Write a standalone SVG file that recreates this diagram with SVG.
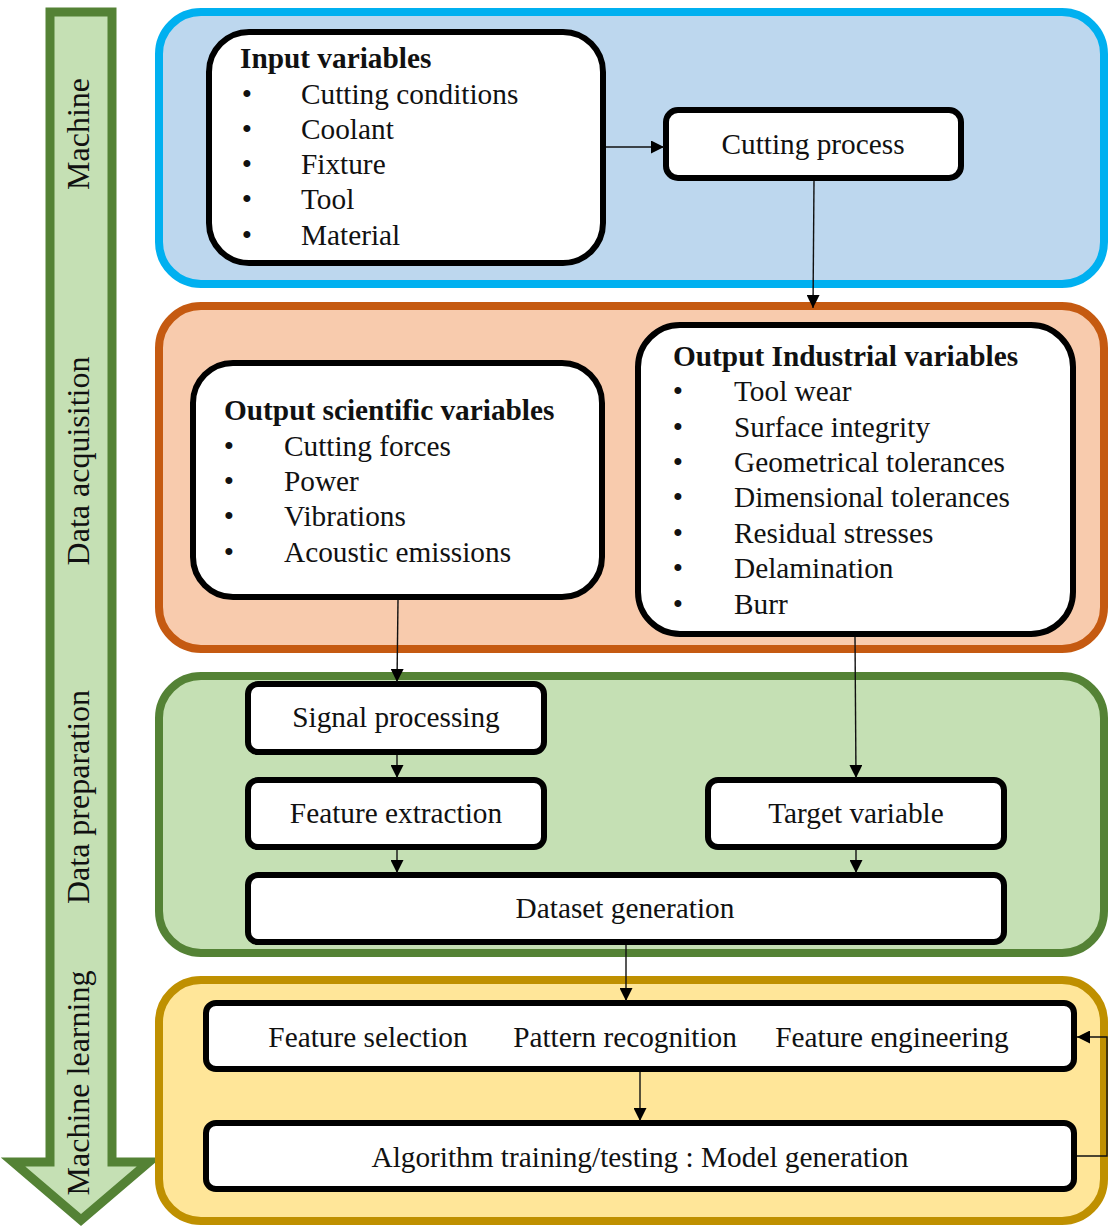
<svg xmlns="http://www.w3.org/2000/svg" width="1109" height="1227" viewBox="0 0 1109 1227">
<defs>
<style>
.t{font-family:"Liberation Serif","Times New Roman",serif;font-size:29.3px;fill:#111}
.b{font-weight:bold}
.m{text-anchor:middle}
.side{font-family:"Liberation Serif","Times New Roman",serif;font-size:32px;fill:#111;text-anchor:middle}
.box{fill:#fff;stroke:#000;stroke-width:6}
.con{fill:none;stroke:#111;stroke-width:1.4}
</style>
<marker id="ah" viewBox="0 0 10 10" refX="10" refY="5" markerWidth="13" markerHeight="13" markerUnits="userSpaceOnUse" orient="auto">
<path d="M0,0 L10,5 L0,10 z" fill="#000"/>
</marker>
</defs>
<rect width="1109" height="1227" fill="#fff"/>

<g id="stage-arrow">
<polygon points="50,12 112,12 112,1162 149,1162 81,1220 13,1162 50,1162" fill="#c5e0b4" stroke="#548235" stroke-width="9" stroke-linejoin="miter"/>
<text class="side" transform="translate(89,134) rotate(-90)">Machine</text>
<text class="side" transform="translate(89,461) rotate(-90)">Data acquisition</text>
<text class="side" transform="translate(89,797) rotate(-90)">Data preparation</text>
<text class="side" transform="translate(89,1083) rotate(-90)">Machine learning</text>
</g>

<g id="panel-machine"><rect x="159" y="12" width="945" height="272" rx="42" fill="#bdd7ee" stroke="#00b0f0" stroke-width="8"/></g>
<g id="panel-acquisition"><rect x="159" y="306" width="945" height="343" rx="42" fill="#f8cbad" stroke="#c55a11" stroke-width="8"/></g>
<g id="panel-preparation"><rect x="159" y="676" width="945" height="277" rx="42" fill="#c5e0b4" stroke="#548235" stroke-width="8"/></g>
<g id="panel-ml"><rect x="159" y="980" width="945" height="241" rx="42" fill="#ffe699" stroke="#bf9000" stroke-width="8"/></g>

<g id="input-variables">
<rect class="box" x="209" y="32" width="394" height="231" rx="40"/>
<text class="t b" x="240" y="68">Input variables</text>
<text class="t m" x="247" y="104">•</text><text class="t" x="301" y="104">Cutting conditions</text>
<text class="t m" x="247" y="139">•</text><text class="t" x="301" y="139">Coolant</text>
<text class="t m" x="247" y="174">•</text><text class="t" x="301" y="174">Fixture</text>
<text class="t m" x="247" y="209">•</text><text class="t" x="301" y="209">Tool</text>
<text class="t m" x="247" y="245">•</text><text class="t" x="301" y="245">Material</text>
</g>

<g id="cutting-process">
<rect class="box" x="666" y="110" width="295" height="68" rx="12"/>
<text class="t m" x="813" y="154">Cutting process</text>
</g>

<g id="output-scientific">
<rect class="box" x="193" y="363" width="409" height="234" rx="40"/>
<text class="t b" x="224" y="420">Output scientific variables</text>
<text class="t m" x="229" y="456">•</text><text class="t" x="284" y="456">Cutting forces</text>
<text class="t m" x="229" y="491">•</text><text class="t" x="284" y="491">Power</text>
<text class="t m" x="229" y="526">•</text><text class="t" x="284" y="526">Vibrations</text>
<text class="t m" x="229" y="562">•</text><text class="t" x="284" y="562">Acoustic emissions</text>
</g>

<g id="output-industrial">
<rect class="box" x="638" y="325" width="435" height="309" rx="42"/>
<text class="t b" x="673" y="366">Output Industrial variables</text>
<text class="t m" x="678" y="401">•</text><text class="t" x="734" y="401">Tool wear</text>
<text class="t m" x="678" y="437">•</text><text class="t" x="734" y="437">Surface integrity</text>
<text class="t m" x="678" y="472">•</text><text class="t" x="734" y="472">Geometrical tolerances</text>
<text class="t m" x="678" y="507">•</text><text class="t" x="734" y="507">Dimensional tolerances</text>
<text class="t m" x="678" y="543">•</text><text class="t" x="734" y="543">Residual stresses</text>
<text class="t m" x="678" y="578">•</text><text class="t" x="734" y="578">Delamination</text>
<text class="t m" x="678" y="614">•</text><text class="t" x="734" y="614">Burr</text>
</g>

<g id="signal-processing">
<rect class="box" x="248" y="684" width="296" height="68" rx="10"/>
<text class="t m" x="396" y="727">Signal processing</text>
</g>

<g id="feature-extraction">
<rect class="box" x="248" y="780" width="296" height="67" rx="10"/>
<text class="t m" x="396" y="823">Feature extraction</text>
</g>

<g id="target-variable">
<rect class="box" x="708" y="780" width="296" height="67" rx="10"/>
<text class="t m" x="856" y="823">Target variable</text>
</g>

<g id="dataset-generation">
<rect class="box" x="248" y="875" width="756" height="67" rx="10"/>
<text class="t m" x="625" y="918">Dataset generation</text>
</g>

<g id="feature-selection">
<rect class="box" x="206" y="1003" width="868" height="66" rx="10"/>
<text class="t m" x="368" y="1047">Feature selection</text>
<text class="t m" x="625" y="1047">Pattern recognition</text>
<text class="t m" x="892" y="1047">Feature engineering</text>
</g>

<g id="algorithm-training">
<rect class="box" x="206" y="1123" width="868" height="66" rx="10"/>
<text class="t m" x="640" y="1167">Algorithm training/testing : Model generation</text>
</g>

<g id="connectors">
<line class="con" x1="606" y1="147" x2="664" y2="147" marker-end="url(#ah)"/>
<line class="con" x1="814" y1="181" x2="813" y2="308" marker-end="url(#ah)"/>
<line class="con" x1="398" y1="600" x2="397" y2="682" marker-end="url(#ah)"/>
<line class="con" x1="855" y1="637" x2="856" y2="778" marker-end="url(#ah)"/>
<line class="con" x1="397" y1="755" x2="397" y2="778" marker-end="url(#ah)"/>
<line class="con" x1="397" y1="850" x2="397" y2="873" marker-end="url(#ah)"/>
<line class="con" x1="856" y1="850" x2="856" y2="873" marker-end="url(#ah)"/>
<line class="con" x1="626" y1="945" x2="626" y2="1001" marker-end="url(#ah)"/>
<line class="con" x1="640" y1="1072" x2="640" y2="1121" marker-end="url(#ah)"/>
<polyline class="con" points="1077,1156 1107,1156 1107,1037 1077,1037" marker-end="url(#ah)"/>
</g>
</svg>
